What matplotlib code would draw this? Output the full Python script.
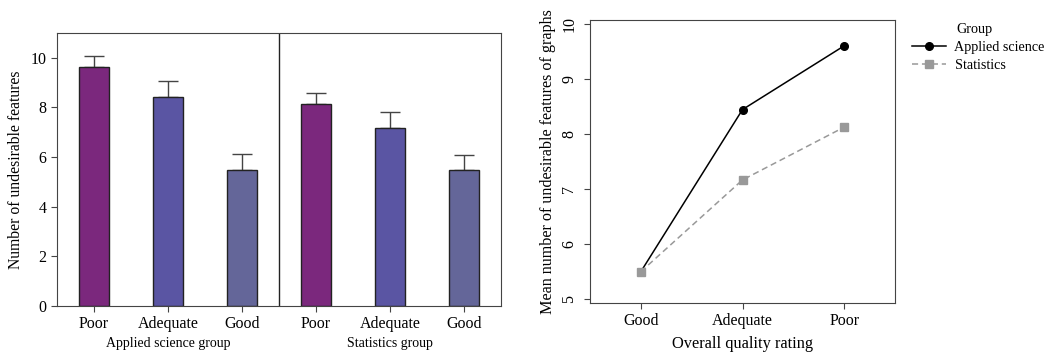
import matplotlib
matplotlib.use('Agg')
from matplotlib import pyplot
import numpy

pyplot.rcParams['font.family'] = ['Liberation Serif', 'DejaVu Serif']

# bar panel data
ratings_bar = ['Poor', 'Adequate', 'Good']
groups = ['Applied science group', 'Statistics group']
applied_means = [9.62, 8.44, 5.50]
applied_upper = [10.09, 9.07, 6.13]
stats_means = [8.13, 7.18, 5.50]
stats_upper = [8.60, 7.81, 6.09]
bar_colors = ['#7b287d', '#5a55a3', '#646699']

# line panel data
ratings_line = ['Good', 'Adequate', 'Poor']
applied_line = [5.50, 8.45, 9.61]
stats_line = [5.50, 7.17, 8.13]

fig = pyplot.figure(figsize=(10.47, 3.52), dpi=100)
W, H = 1047.0, 352.0

# left: bar chart with two groups in one frame
ax = fig.add_axes([57 / W, (H - 306) / H, 444 / W, 273 / H])
means = applied_means + stats_means
errs = [u - m for u, m in zip(applied_upper + stats_upper, means)]
x = numpy.arange(len(means))
ax.bar(x, means, width=0.4, color=bar_colors * 2, edgecolor='#222222',
       linewidth=1.0, zorder=2)
ax.errorbar(x, means, yerr=[numpy.zeros(len(errs)), errs], fmt='none',
            ecolor='#444444', elinewidth=1.0, capsize=7, capthick=1.0, zorder=1)
ax.axvline(2.5, color='#222222', linewidth=1.0)
ax.set_xlim(-0.5, 5.5)
ax.set_ylim(0, 11)
ax.set_xticks(x)
ax.set_xticklabels(ratings_bar * 2, fontsize=11.5)
ax.set_yticks([0, 2, 4, 6, 8, 10])
ax.tick_params(axis='y', labelsize=11.5, length=4, color='#444444')
ax.tick_params(axis='x', length=4, color='#444444')
ax.set_ylabel('Number of undesirable features', fontsize=11.3, labelpad=5)
for i, g in enumerate(groups):
    ax.text(1 + 3 * i, -0.137, g, transform=ax.get_xaxis_transform(),
            ha='center', va='center', fontsize=10)
for s in ax.spines.values():
    s.set_color('#444444')

# right: interaction line plot
ax2 = fig.add_axes([590 / W, (H - 303) / H, 305 / W, 283 / H])
xl = numpy.arange(len(ratings_line))
ax2.plot(xl, applied_line, color='black', linewidth=1.1, marker='o',
         markersize=5.5, label='Applied science')
ax2.plot(xl, stats_line, color='#999999', linewidth=1.1, linestyle='--',
         dashes=(4, 2.5), marker='s', markersize=5.5, label='Statistics')
ax2.set_xlim(-0.5, 2.5)
ax2.set_ylim(4.93, 10.08)
ax2.set_xticks(xl)
ax2.set_xticklabels(ratings_line, fontsize=11.5)
ax2.set_yticks([5, 6, 7, 8, 9, 10])
ax2.set_yticklabels(['5', '6', '7', '8', '9', '10'], rotation=90, va='center')
ax2.tick_params(axis='y', labelsize=11.5, length=4, color='#444444', pad=5)
ax2.tick_params(axis='x', length=4, color='#444444')
ax2.set_xlabel('Overall quality rating', fontsize=11.8, labelpad=5)
ax2.set_ylabel('Mean number of undesirable features of graphs', fontsize=11.6,
               labelpad=4)
for s in ax2.spines.values():
    s.set_color('#444444')

fig.text(956 / W, 1 - 30 / H, 'Group', ha='left', va='center', fontsize=10.2)
leg = ax2.legend(loc='upper left', bbox_to_anchor=(912 / W, 1 - 41 / H),
                 bbox_transform=fig.transFigure,
                 frameon=False, fontsize=10.2, borderpad=0, borderaxespad=0,
                 handlelength=2.4, handletextpad=0.6, labelspacing=0.35)

fig.savefig('out.png', dpi=100)
